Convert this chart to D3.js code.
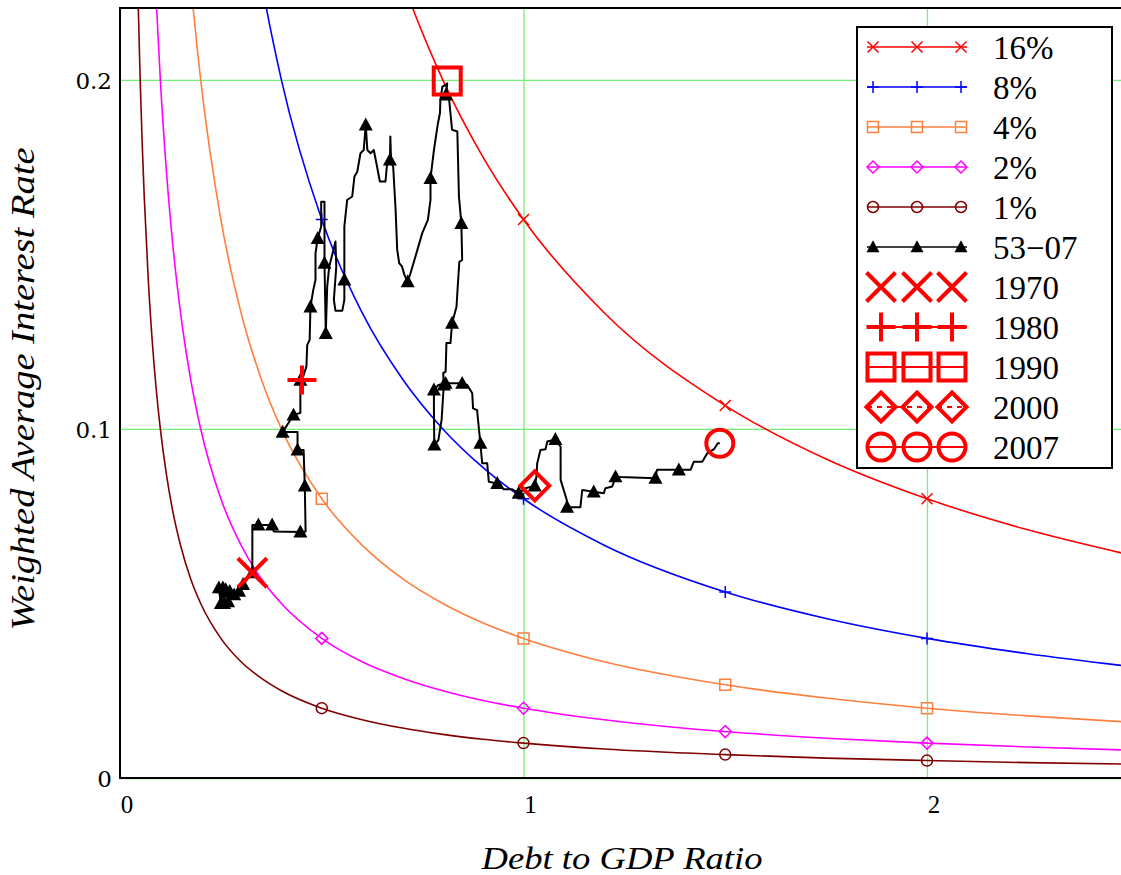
<!DOCTYPE html>
<html>
<head>
<meta charset="utf-8">
<script src="https://cdn.jsdelivr.net/npm/d3@7"></script>
<style>
  body { margin: 0; background: #fff; }
  text { font-family: "Liberation Serif", "DejaVu Serif", serif; }
</style>
</head>
<body>
<div id="chart"></div>
<script>
const curveDebt = [0.03, 0.035, 0.04, 0.045, 0.05, 0.055, 0.06, 0.07, 0.08, 0.09, 0.1, 0.115, 0.13, 0.15, 0.175, 0.2,
  0.25, 0.3, 0.35, 0.4, 0.5, 0.6, 0.7, 0.8, 0.9, 1, 1.2, 1.5, 1.75, 2, 2.25, 2.5];
const rate16 = [5.3333, 4.5714, 4, 3.5556, 3.2, 2.9091, 2.6667, 2.2857, 2, 1.7778, 1.6, 1.3913, 1.2308, 1.0667, 0.9143, 0.8,
  0.64, 0.5333, 0.4571, 0.4, 0.32, 0.2667, 0.2286, 0.2, 0.1778, 0.16, 0.1333, 0.1067, 0.0914, 0.08, 0.0711, 0.064];
const rate8 = [2.6667, 2.2857, 2, 1.7778, 1.6, 1.4545, 1.3333, 1.1429, 1, 0.8889, 0.8, 0.6957, 0.6154, 0.5333, 0.4571, 0.4,
  0.32, 0.2667, 0.2286, 0.2, 0.16, 0.1333, 0.1143, 0.1, 0.0889, 0.08, 0.0667, 0.0533, 0.0457, 0.04, 0.0356, 0.032];
const rate4 = [1.3333, 1.1429, 1, 0.8889, 0.8, 0.7273, 0.6667, 0.5714, 0.5, 0.4444, 0.4, 0.3478, 0.3077, 0.2667, 0.2286, 0.2,
  0.16, 0.1333, 0.1143, 0.1, 0.08, 0.0667, 0.0571, 0.05, 0.0444, 0.04, 0.0333, 0.0267, 0.0229, 0.02, 0.0178, 0.016];
const rate2 = [0.6667, 0.5714, 0.5, 0.4444, 0.4, 0.3636, 0.3333, 0.2857, 0.25, 0.2222, 0.2, 0.1739, 0.1538, 0.1333, 0.1143, 0.1,
  0.08, 0.0667, 0.0571, 0.05, 0.04, 0.0333, 0.0286, 0.025, 0.0222, 0.02, 0.0167, 0.0133, 0.0114, 0.01, 0.0089, 0.008];
const rate1 = [0.3333, 0.2857, 0.25, 0.2222, 0.2, 0.1818, 0.1667, 0.1429, 0.125, 0.1111, 0.1, 0.087, 0.0769, 0.0667, 0.0571, 0.05,
  0.04, 0.0333, 0.0286, 0.025, 0.02, 0.0167, 0.0143, 0.0125, 0.0111, 0.01, 0.0083, 0.0067, 0.0057, 0.005, 0.0044, 0.004];
const curveLabels = ["16%", "8%", "4%", "2%", "1%"];
const markerDebt = [0.5, 1, 1.5, 2];

// 1953-2007 path (debt/GDP, weighted average rate)
const pathDebt = [0.245, 0.25, 0.255, 0.258, 0.262, 0.268, 0.272, 0.283, 0.295, 0.305, 0.328,
  0.328, 0.343, 0.365, 0.377, 0.381, 0.447, 0.46, 0.458, 0.455, 0.44, 0.44, 0.403, 0.43, 0.447, 0.447, 0.451,
  0.462, 0.464, 0.47, 0.472, 0.479, 0.4845, 0.4845, 0.49, 0.4986, 0.4986, 0.5068, 0.5068, 0.51, 0.5135, 0.5185,
  0.526, 0.534, 0.536, 0.53, 0.534, 0.551, 0.556, 0.556, 0.556, 0.563, 0.5755, 0.581, 0.588, 0.596, 0.604, 0.609,
  0.613, 0.621, 0.629, 0.637, 0.644, 0.658, 0.662, 0.669, 0.67, 0.672, 0.677, 0.683, 0.687, 0.692, 0.699, 0.705,
  0.713, 0.72, 0.737, 0.749, 0.763, 0.7695, 0.7695, 0.778, 0.788, 0.793, 0.794, 0.799, 0.806, 0.811, 0.808,
  0.815, 0.823, 0.836, 0.84, 0.846, 0.848, 0.841, 0.837, 0.834, 0.823, 0.819, 0.809, 0.807, 0.801, 0.8025,
  0.797, 0.789, 0.779, 0.778, 0.778, 0.789, 0.807, 0.848, 0.8605, 0.873, 0.875, 0.885, 0.893, 0.8976, 0.91,
  0.914, 0.935, 0.951, 0.972, 0.988, 1.007, 1.028, 1.032, 1.034, 1.042, 1.0545, 1.059, 1.079, 1.092, 1.092,
  1.107, 1.108, 1.141, 1.1455, 1.174, 1.199, 1.203, 1.22, 1.228, 1.24, 1.327, 1.331, 1.385, 1.414, 1.422,
  1.443, 1.455, 1.472, 1.4815, 1.4865];
const pathRate = [0.0545, 0.05, 0.0545, 0.05, 0.054, 0.0505, 0.0535, 0.0525, 0.0535, 0.0555, 0.0588,
  0.0725, 0.0725, 0.0725, 0.0725, 0.0706, 0.0705, 0.0706, 0.0837, 0.094, 0.094, 0.0991, 0.0991, 0.104, 0.1046, 0.114, 0.114,
  0.1179, 0.1241, 0.1255, 0.135, 0.1398, 0.1427, 0.1503, 0.1546, 0.158, 0.1651, 0.1651, 0.1475, 0.1274, 0.1408, 0.1465,
  0.1499, 0.1537, 0.1465, 0.137, 0.1339, 0.1339, 0.137, 0.1427, 0.158, 0.1656, 0.1666, 0.1723, 0.1737, 0.179, 0.1799, 0.1871,
  0.1799, 0.179, 0.1799, 0.1752, 0.1709, 0.1709, 0.1761, 0.1771, 0.1838, 0.1761, 0.1752, 0.1628, 0.1513, 0.1475, 0.1465, 0.1441,
  0.1422, 0.1446, 0.1513, 0.1561, 0.1599, 0.1656, 0.1718, 0.1799, 0.1876, 0.1905, 0.1943, 0.1981, 0.1985, 0.199, 0.1957,
  0.1952, 0.1857, 0.1852, 0.1666, 0.1589, 0.1484, 0.1479, 0.1408, 0.135, 0.1303, 0.1246, 0.1246, 0.1164, 0.116, 0.1126,
  0.1026, 0.0968, 0.0954, 0.1054, 0.1112, 0.1126, 0.1131, 0.1131, 0.1126, 0.1102, 0.1059, 0.1054, 0.0959, 0.0902, 0.0902,
  0.0849, 0.0844, 0.0827, 0.0827, 0.0816, 0.0831, 0.0837, 0.0863, 0.0902, 0.094, 0.0942, 0.0964, 0.097, 0.0949, 0.0854,
  0.0797, 0.0776, 0.0776, 0.0825, 0.082, 0.0816, 0.083, 0.0835, 0.0863, 0.0862, 0.0859, 0.0883, 0.0883, 0.0883, 0.0906,
  0.0906, 0.093, 0.0942, 0.0959, 0.0959];
// points of the path that carry a triangle
const annualIdx = [0, 1, 2, 3, 4, 5, 6, 7, 8, 9, 10, 12, 14, 16, 18, 20, 22, 23, 25, 30, 34, 38, 39, 49, 57, 65, 74, 80,
  88, 93, 98, 103, 106, 108, 110, 111, 116, 120, 123, 125, 131, 135, 138, 142, 144, 146];

const yearLabels = ["1970", "1980", "1990", "2000", "2007"];
const yearDebt = [0.328, 0.451, 0.811, 1.028, 1.4865];
const yearRate = [0.0588, 0.114, 0.1997, 0.0837, 0.0959];

const xTicks = [0, 1, 2];
const yTicks = [0, 0.1, 0.2];

const width = 1121, height = 875;
const plotLeft = 120, plotTop = 8, plotBottom = 778;
const gridColor = "#72f272";
const curveColors = ["#ff0000", "#0000ff", "#ff7f3f", "#ff00ff", "#800000"];
const curveShapes = ["x", "plus", "square", "diamond", "circle"];
const yearShapes = ["x", "plus", "square", "diamond", "circle"];
const curveRates = [rate16, rate8, rate4, rate2, rate1];

const x = d3.scaleLinear().domain([0, 2.48]).range([plotLeft, plotLeft + 2.48 * 403.5]);
const y = d3.scaleLinear().domain([0, 0.2206]).range([plotBottom, plotTop]);

const svg = d3.select("#chart").append("svg")
  .attr("width", width).attr("height", height);
svg.append("rect").attr("width", width).attr("height", height).attr("fill", "#fff");

svg.append("defs").append("clipPath").attr("id", "plotclip")
  .append("rect").attr("x", plotLeft).attr("y", plotTop)
  .attr("width", width - plotLeft + 10).attr("height", plotBottom - plotTop);

// symbol shapes, s = half size
function shapePath(type, s) {
  if (type === "x") return `M${-s},${-s}L${s},${s}M${-s},${s}L${s},${-s}`;
  if (type === "plus") return `M${-s},0H${s}M0,${-s}V${s}`;
  if (type === "square") return `M${-s},${-s}H${s}V${s}H${-s}Z`;
  if (type === "diamond") return `M0,${-s}L${s},0L0,${s}L${-s},0Z`;
  if (type === "circle") return `M${s},0A${s},${s} 0 1,1 ${-s},0A${s},${s} 0 1,1 ${s},0Z`;
  if (type === "tri") return `M0,${-s * 1.05}L${s},${s * 0.8}L${-s},${s * 0.8}Z`;
}
const curveMarkSize = { x: 5.5, plus: 6, square: 5.5, diamond: 6, circle: 5.5 };

// grid + tick labels
const gx = svg.append("g").attr("transform", `translate(0,${plotBottom})`)
  .call(d3.axisBottom(x).tickValues(xTicks).tickSize(-(plotBottom - plotTop)).tickPadding(17).tickFormat(d3.format("d")));
gx.select(".domain").remove();
gx.selectAll(".tick line").attr("stroke", gridColor).attr("stroke-width", 1.3);
gx.selectAll(".tick text").attr("dx", 6.5).attr("fill", "#000")
  .style("font-family", "'Liberation Serif', serif").style("font-size", "25px");

const gy = svg.append("g").attr("transform", `translate(${plotLeft},0)`)
  .call(d3.axisLeft(y).tickValues(yTicks).tickSize(-(width - plotLeft)).tickPadding(8)
    .tickFormat(d => d === 0 ? "0" : d3.format(".1f")(d)));
gy.select(".domain").remove();
gy.selectAll(".tick line").attr("stroke", gridColor).attr("stroke-width", 1.3);
gy.selectAll(".tick text").attr("fill", "#000").attr("dy", "0.38em")
  .style("font-family", "'DejaVu Serif', serif").style("font-size", "23px");

const plot = svg.append("g").attr("clip-path", "url(#plotclip)");

// iso curves
const line = d3.line().x(d => x(d[0])).y(d => y(d[1])).curve(d3.curveMonotoneX);
curveRates.forEach((rates, i) => {
  const pts = curveDebt.map((d, j) => [d, rates[j]]);
  plot.append("path").datum(pts).attr("d", line)
    .attr("fill", "none").attr("stroke", curveColors[i]).attr("stroke-width", 1.6);
  plot.selectAll(null).data(pts.filter(p => markerDebt.includes(p[0])))
    .join("path")
    .attr("transform", d => `translate(${x(d[0])},${y(d[1])})`)
    .attr("d", shapePath(curveShapes[i], curveMarkSize[curveShapes[i]]))
    .attr("fill", "none").attr("stroke", curveColors[i]).attr("stroke-width", 1.5);
});

// 53-07 path
const histPts = pathDebt.map((d, i) => [d, pathRate[i]]);
plot.append("path").datum(histPts)
  .attr("d", d3.line().x(d => x(d[0])).y(d => y(d[1])))
  .attr("fill", "none").attr("stroke", "#000").attr("stroke-width", 2).attr("stroke-linejoin", "round");
plot.selectAll(".tri").data(annualIdx.map(i => histPts[i]))
  .join("path").attr("class", "tri")
  .attr("transform", d => `translate(${x(d[0])},${y(d[1])})`)
  .attr("d", shapePath("tri", 7)).attr("fill", "#000");

// year markers
yearLabels.forEach((yr, i) => {
  plot.append("path")
    .attr("transform", `translate(${x(yearDebt[i])},${y(yearRate[i])})`)
    .attr("d", shapePath(yearShapes[i], yearShapes[i] === "circle" ? 13.5 : yearShapes[i] === "square" ? 13.5 : 14.5))
    .attr("fill", "none").attr("stroke", "#ff0000").attr("stroke-width", 4);
});

// frame
svg.append("path")
  .attr("d", `M${width + 5},${plotTop}H${plotLeft}V${plotBottom}H${width + 5}`)
  .attr("fill", "none").attr("stroke", "#000").attr("stroke-width", 2);

// legend
const lg = svg.append("g");
lg.append("rect").attr("x", 857).attr("y", 27).attr("width", 255).attr("height", 441)
  .attr("fill", "#fff").attr("stroke", "#000").attr("stroke-width", 2);
const legendItems = curveLabels.map((l, i) => ({ label: l, color: curveColors[i], shape: curveShapes[i], kind: "curve" }))
  .concat([{ label: "53\u221207", color: "#000", shape: "tri", kind: "hist" }])
  .concat(yearLabels.map((l, i) => ({ label: l, color: "#ff0000", shape: yearShapes[i], kind: "year" })));
const symX = [873, 917, 961];
const bigSymX = [881, 917, 952];
legendItems.forEach((it, i) => {
  const cy = 47 + i * 40;
  const row = lg.append("g").attr("transform", `translate(0,${cy})`);
  if (it.label !== "1970") {
    row.append("line").attr("x1", 867).attr("x2", 967).attr("y1", 0).attr("y2", 0)
      .attr("stroke", it.color).attr("stroke-width", it.kind === "year" ? 2 : 1.6)
      .attr("stroke-dasharray", it.label === "2000" ? "5,5" : null);
  }
  (it.kind === "year" ? bigSymX : symX).forEach(sx => {
    let s, sw, fill = "none";
    if (it.kind === "curve") { s = curveMarkSize[it.shape]; sw = 1.5; }
    else if (it.kind === "hist") { s = 6.5; sw = 0; fill = "#000"; }
    else { s = it.shape === "circle" || it.shape === "square" ? 13.5 : 14.5; sw = 4; }
    row.append("path").attr("transform", `translate(${sx},0)`)
      .attr("d", shapePath(it.shape, s))
      .attr("fill", fill).attr("stroke", fill === "none" ? it.color : null).attr("stroke-width", sw);
  });
  row.append("text").attr("x", 993).attr("y", 0).attr("dy", "0.35em")
    .attr("font-size", 33).attr("fill", "#000").text(it.label);
});

// axis titles
svg.append("text").attr("x", 622).attr("y", 869).attr("text-anchor", "middle")
  .attr("font-size", 32).attr("font-style", "italic")
  .attr("textLength", 281).attr("lengthAdjust", "spacingAndGlyphs").text("Debt to GDP Ratio");
svg.append("text").attr("transform", "translate(34,389) rotate(-90)").attr("text-anchor", "middle")
  .attr("font-size", 33).attr("font-style", "italic")
  .attr("textLength", 483).attr("lengthAdjust", "spacingAndGlyphs").text("Weighted Average Interest Rate");
</script>
</body>
</html>
